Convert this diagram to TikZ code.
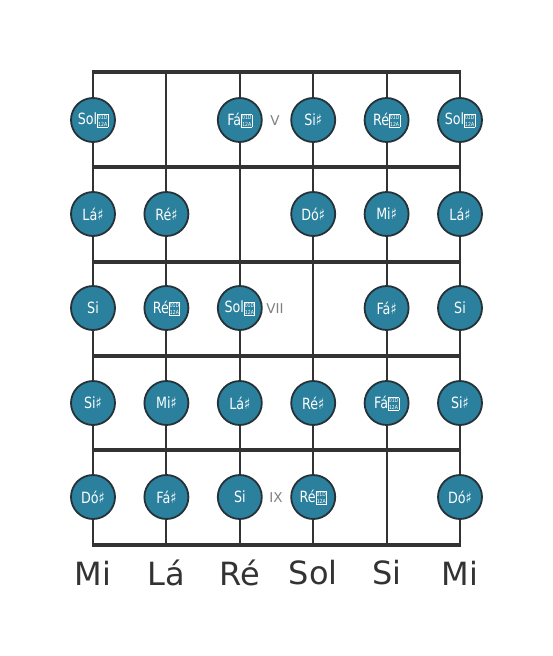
\documentclass[tikz,border=0pt]{standalone}
\usepackage{fontspec}
\setmainfont{DejaVu Sans}
\newfontfamily\notefont{DejaVu Sans}[FakeStretch=0.82]
\definecolor{linec}{HTML}{333333}
\definecolor{notefill}{RGB}{42,128,157}
\definecolor{noteedge}{HTML}{263238}
\definecolor{fretlbl}{HTML}{808080}
\newcommand\dsh{{\setlength\fboxsep{0.3pt}\setlength\fboxrule{0.5pt}\raisebox{-1.5pt}{\fbox{\fontsize{5.6}{6.0}\selectfont\shortstack{01D\\12A}}}}}
\newcommand\shp{\char"266F}
\tikzset{
  stringline/.style={draw=linec, line width=2pt},
  fretline/.style={draw=linec, line width=3.6pt},
  note/.style={circle, fill=notefill, draw=noteedge, line width=1.8pt, minimum size=44pt, inner sep=0pt, text=white, font=\notefont\fontsize{15.5}{16}\selectfont},
  fretno/.style={text=fretlbl, font=\fontsize{13.5}{14}\selectfont},
  openname/.style={text=linec, font=\fontsize{32}{35}\selectfont}
}
\begin{document}
\begin{tikzpicture}[x=1pt,y=-1pt]
\useasboundingbox[fill=white] (0,0) rectangle (553,656);
% string coordinates
\foreach \i/\x in {1/93,2/166.4,3/239.8,4/313.2,5/386.6,6/460}{
  \coordinate (s\i t) at (\x,72);
  \coordinate (s\i b) at (\x,545);
}
% fret coordinates
\foreach \j/\y in {0/72,1/167,2/262,3/356,4/450,5/545}{
  \coordinate (f\j l) at (93,\y);
  \coordinate (f\j r) at (460,\y);
}
\foreach \i in {1,...,6}{ \draw[stringline] (s\i t) -- (s\i b); }
\foreach \j in {0,...,5}{ \draw[fretline] ([xshift=-1pt]f\j l) -- ([xshift=1pt]f\j r); }
% row 1
\node[note] (n11) at (93,120) {Sol\dsh};
\node[note] (n13) at (239.8,120) {Fá\dsh};
\node[note] (n14) at (313.2,120) {Si\shp};
\node[note] (n15) at (386.6,120) {Ré\dsh};
\node[note] (n16) at (460,120) {Sol\dsh};
% row 2
\node[note] (n21) at (93,214) {Lá\shp};
\node[note] (n22) at (166.4,214) {Ré\shp};
\node[note] (n24) at (313.2,214) {Dó\shp};
\node[note] (n25) at (386.6,214) {Mi\shp};
\node[note] (n26) at (460,214) {Lá\shp};
% row 3
\node[note] (n31) at (93,308) {Si};
\node[note] (n32) at (166.4,308) {Ré\dsh};
\node[note] (n33) at (239.8,308) {Sol\dsh};
\node[note] (n35) at (386.6,308) {Fá\shp};
\node[note] (n36) at (460,308) {Si};
% row 4
\node[note] (n41) at (93,403) {Si\shp};
\node[note] (n42) at (166.4,403) {Mi\shp};
\node[note] (n43) at (239.8,403) {Lá\shp};
\node[note] (n44) at (313.2,403) {Ré\shp};
\node[note] (n45) at (386.6,403) {Fá\dsh};
\node[note] (n46) at (460,403) {Si\shp};
% row 5
\node[note] (n51) at (93,497) {Dó\shp};
\node[note] (n52) at (166.4,497) {Fá\shp};
\node[note] (n53) at (239.8,497) {Si};
\node[note] (n54) at (313.2,497) {Ré\dsh};
\node[note] (n56) at (460,497) {Dó\shp};
% fret numbers
\node[fretno] (fv) at (275,121) {V};
\node[fretno] (fvii) at (275,309) {VII};
\node[fretno] (fix) at (276,498) {IX};
% open strings
\node[openname] (o1) at (93,573) {Mi};
\node[openname] (o2) at (166.4,573) {Lá};
\node[openname] (o3) at (239.8,573) {Ré};
\node[openname] (o4) at (313.2,573) {Sol};
\node[openname] (o5) at (386.6,573) {Si};
\node[openname] (o6) at (460,573) {Mi};
\end{tikzpicture}
\end{document}
